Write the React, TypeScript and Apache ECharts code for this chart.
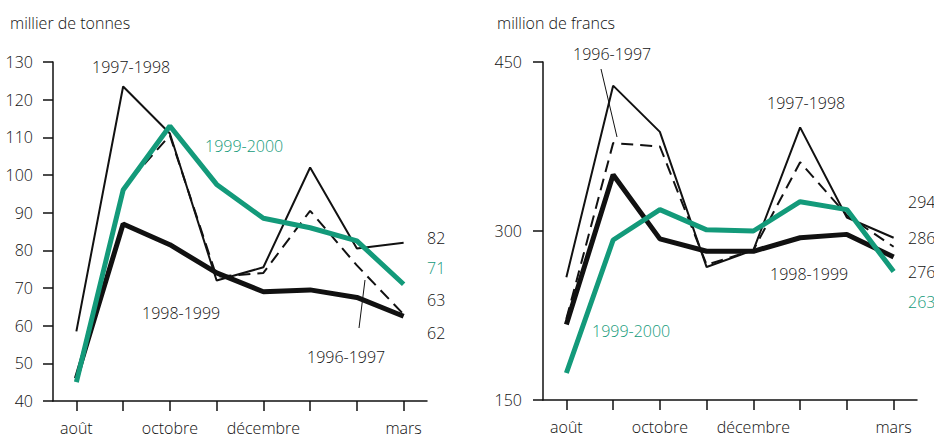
import React, { useEffect, useRef } from "react";
import * as echarts from "echarts";

const categories = ["août", "septembre", "octobre", "novembre", "décembre", "janvier", "février", "mars"];
const shownLabels = [0, 2, 4, 7];

// milliers de tonnes
const tonnes9697 = [46, 96.5, 110.5, 73, 74, 90.5, 76, 63];
const tonnes9798 = [58.5, 123.5, 111, 72, 75.5, 102, 80.5, 82];
const tonnes9899 = [46, 87, 81.5, 74, 69, 69.5, 67.5, 62.5];
const tonnes9900 = [45, 96, 113, 97.5, 88.5, 86, 82.5, 71];

// millions de francs
const francs9697 = [222, 378, 375, 270, 283, 361, 314, 286];
const francs9798 = [259, 429, 388, 268, 283, 392, 312, 294];
const francs9899 = [217, 350, 293, 282, 282, 294, 297, 277];
const francs9900 = [174, 292, 319, 301, 300, 326, 319, 264];

const leftTicks = { min: 40, max: 130, interval: 10 };
const rightTicks = { min: 150, max: 450, interval: 150 };

const GREEN = "#139a7a";
const BLACK = "#111111";
const FONT = "'Open Sans', 'Liberation Sans', sans-serif";
const FS = 16;
const FW = 350;

export default function App() {
  const ref = useRef<HTMLDivElement>(null);
  useEffect(() => {
    document.body.style.margin = "0";
    const chart = echarts.init(ref.current!, undefined, { renderer: "svg" });
    const xAxisBase = (gridIndex: number) => ({
      type: "category",
      gridIndex,
      data: categories,
      boundaryGap: true,
      axisLine: { lineStyle: { color: BLACK, width: 1.5 } },
      axisTick: { show: true, alignWithLabel: true, interval: 0, length: 10, lineStyle: { color: BLACK, width: 1.5 } },
      axisLabel: {
        interval: (i: number) => shownLabels.includes(i),
        color: BLACK,
        fontSize: FS,
        fontWeight: FW,
        fontFamily: FONT,
        margin: 19,
      },
      splitLine: { show: false },
    });
    const yAxisBase = (gridIndex: number, t: any, margin: number) => ({
      type: "value",
      gridIndex,
      min: t.min,
      max: t.max,
      interval: t.interval,
      axisLine: { show: true, lineStyle: { color: BLACK, width: 1.5 } },
      axisTick: { show: true, length: 10, lineStyle: { color: BLACK, width: 1.5 } },
      axisLabel: { color: BLACK, fontSize: FS, fontWeight: FW, fontFamily: FONT, margin },
      splitLine: { show: false },
    });
    const mk = (name: string, data: number[], idx: number, style: any) => ({
      name,
      type: "line",
      xAxisIndex: idx,
      yAxisIndex: idx,
      data,
      symbol: "none",
      lineStyle: style,
      silent: true,
    });
    const thin = { color: BLACK, width: 2 };
    const dashed = { color: BLACK, width: 2, type: [12, 7] };
    const thick = { color: BLACK, width: 5 };
    const green = { color: GREEN, width: 5 };
    const txt = (text: string, x: number, y: number, color = BLACK, align = "left") => ({
      type: "text",
      x,
      y,
      style: {
        text,
        fill: color,
        fontSize: FS,
        fontWeight: FW,
        fontFamily: FONT,
        textAlign: align,
        textVerticalAlign: "middle",
      },
    });
    chart.setOption({
      animation: false,
      grid: [
        { left: 53, top: 62, width: 374, height: 339 },
        { left: 543, top: 62, width: 374, height: 338 },
      ],
      xAxis: [xAxisBase(0), xAxisBase(1)],
      yAxis: [yAxisBase(0, leftTicks, 20), yAxisBase(1, rightTicks, 21)],
      series: [
        mk("1996-1997", tonnes9697, 0, dashed),
        mk("1997-1998", tonnes9798, 0, thin),
        mk("1998-1999", tonnes9899, 0, thick),
        mk("1999-2000", tonnes9900, 0, green),
        mk("1996-1997", francs9697, 1, dashed),
        mk("1997-1998", francs9798, 1, thin),
        mk("1998-1999", francs9899, 1, thick),
        mk("1999-2000", francs9900, 1, green),
      ],
      graphic: [
        txt("millier de tonnes", 10, 23),
        txt("million de francs", 497, 23),
        txt("1997-1998", 92, 67),
        txt("1999-2000", 205, 146, GREEN),
        txt("1998-1999", 142, 313),
        txt("1996-1997", 307, 357),
        { type: "line", shape: { x1: 359, y1: 328, x2: 365, y2: 280 }, style: { stroke: BLACK, lineWidth: 1 } },
        txt("82", 427, 238),
        txt("71", 427, 268, GREEN),
        txt("63", 427, 300),
        txt("62", 427, 333),
        txt("1996-1997", 573, 54),
        { type: "line", shape: { x1: 601, y1: 69, x2: 617, y2: 137 }, style: { stroke: BLACK, lineWidth: 1 } },
        txt("1997-1998", 767, 103),
        txt("1998-1999", 770, 274),
        txt("1999-2000", 592, 331, GREEN),
        txt("294", 908, 202),
        txt("286", 908, 238),
        txt("276", 908, 272),
        txt("263", 908, 302, GREEN),
      ],
    });
    return () => chart.dispose();
  }, []);
  return <div ref={ref} style={{ width: 934, height: 439 }} />;
}
